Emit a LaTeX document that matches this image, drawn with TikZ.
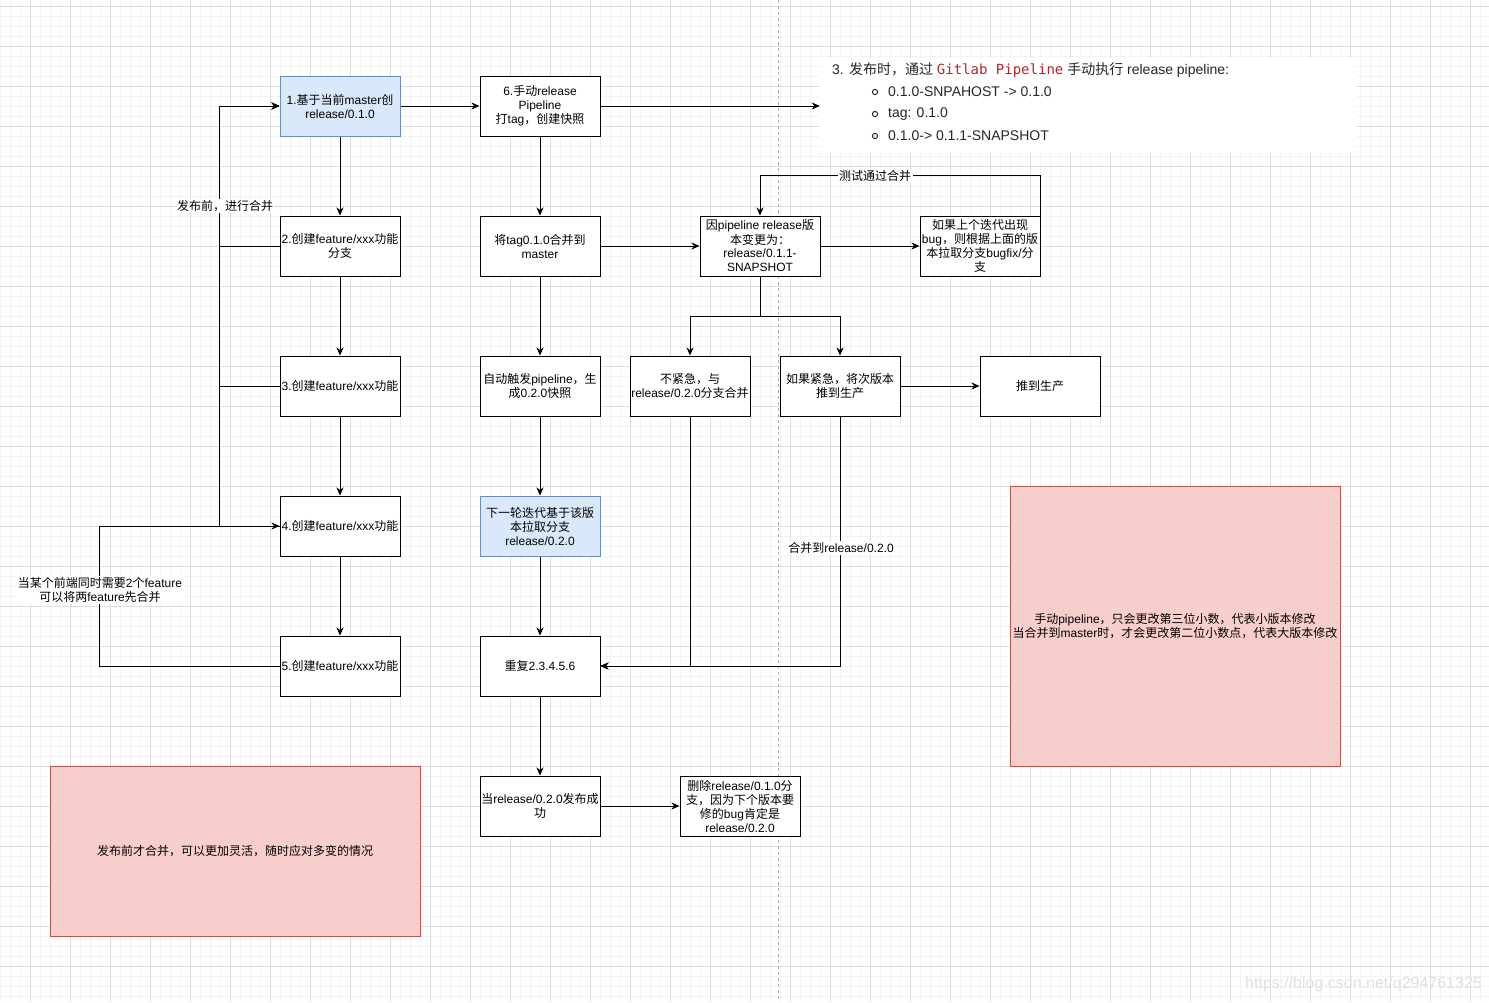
\documentclass[tikz,border=0pt]{standalone}
\usepackage{fontspec}
\setmainfont{Liberation Sans}
\newfontfamily\cjkfont{Noto Sans CJK SC}
\newfontfamily\latfont{Liberation Sans}
\newfontfamily\monofont{DejaVu Sans Mono}
\usetikzlibrary{arrows.meta}
\newcount\mycnt
\newXeTeXintercharclass\CJKcls
\def\setcjkrange#1#2{\mycnt=#1\relax\loop\XeTeXcharclass\mycnt=\CJKcls\relax\ifnum\mycnt<#2\relax\advance\mycnt by 1\relax\repeat}
\setcjkrange{"4E00}{"9FFF}
\setcjkrange{"3000}{"303F}
\setcjkrange{"FF00}{"FFEF}
\XeTeXinterchartokenstate=1
\XeTeXinterchartoks 0 \CJKcls = {\cjkfont}
\XeTeXinterchartoks 4095 \CJKcls = {\cjkfont}
\XeTeXinterchartoks \CJKcls 0 = {\latfont}
\XeTeXinterchartoks \CJKcls 4095 = {\latfont}
\newcommand\fs{\fontsize{12}{14}\selectfont}
\newcommand\fsbig{\fontsize{14}{17}\selectfont}
\definecolor{bluefill}{HTML}{DAE8FC}
\definecolor{bluestroke}{HTML}{6C8EBF}
\definecolor{redfill}{HTML}{F8CECC}
\definecolor{redstroke}{HTML}{B85450}
\definecolor{gitred}{HTML}{B8232F}
\definecolor{gridminor}{HTML}{F3F3F3}
\definecolor{gridmajor}{HTML}{DEDEDE}
\begin{document}
\begin{tikzpicture}[x=1pt,y=-1pt,
  box/.style={draw=black,line width=1pt,fill=white,minimum width=120pt,minimum height=60pt,inner sep=1pt,align=center,font=\fs},
  bluebox/.style={box,draw=bluestroke,fill=bluefill},
  note/.style={draw=redstroke,fill=redfill,line width=1pt,align=center,font=\fs,inner sep=0pt},
  conn/.style={line width=1pt,-{Stealth[length=8pt,width=7pt,inset=2.5pt]}},
  lbl/.style={fill=white,inner sep=1.5pt,align=center,font=\fs},
  shottext/.style={anchor=west,inner sep=0pt,font=\fsbig,text=black!85}]
\useasboundingbox (0,0) rectangle (1489,1002);
\fill[white] (0,0) rectangle (1489,1002);
% grid
\foreach \i in {0,10,...,1480} \draw[gridminor,line width=1pt] (\i,0) -- (\i,1002);
\foreach \j in {6,16,...,1000} \draw[gridminor,line width=1pt] (0,\j) -- (1489,\j);
\foreach \i in {30,70,...,1470} \draw[gridmajor,line width=1pt] (\i,0) -- (\i,1002);
\foreach \j in {6,46,...,1000} \draw[gridmajor,line width=1pt] (0,\j) -- (1489,\j);
% page break line
\draw[black!30,line width=0.8pt,dash pattern=on 3pt off 3pt] (778,0) -- (778,1002);

% screenshot
\node[fill=white,minimum width=536pt,minimum height=95pt,inner sep=0pt] (shot) at (1088,105.5) {};
\node[shottext] (st0) at (832,70) {3. 发布时，通过 {\monofont\color{gitred}Gitlab Pipeline} 手动执行 release pipeline:};
\node[shottext] (st1) at (888,92) {0.1.0-SNPAHOST -> 0.1.0};
\node[shottext] (st2) at (888,114) {tag: 0.1.0};
\node[shottext] (st3) at (888,136) {0.1.0-> 0.1.1-SNAPSHOT};
\foreach \y in {92,114,136} \draw[black!85,line width=1pt] (875,\y) circle (2.6pt);

% left column
\node[bluebox] (n1) at (340,106) {1.基于当前master创\\release/0.1.0};
\node[box] (n2) at (340,246) {2.创建feature/xxx功能\\分支};
\node[box] (n3) at (340,386) {3.创建feature/xxx功能};
\node[box] (n4) at (340,526) {4.创建feature/xxx功能};
\node[box] (n5) at (340,666) {5.创建feature/xxx功能};
% middle column
\node[box] (n6) at (540,106) {6.手动release\\Pipeline\\打tag，创建快照};
\node[box] (t1) at (540,246) {将tag0.1.0合并到\\master};
\node[box] (t2) at (540,386) {自动触发pipeline，生\\成0.2.0快照};
\node[bluebox] (t3) at (540,526) {下一轮迭代基于该版\\本拉取分支\\release/0.2.0};
\node[box] (t4) at (540,666) {重复2.3.4.5.6};
\node[box] (t5) at (540,806) {当release/0.2.0发布成\\功};
\node[box] (del) at (740,806) {删除release/0.1.0分\\支，因为下个版本要\\修的bug肯定是\\release/0.2.0};
% right part
\node[box] (snap) at (760,246) {因pipeline release版\\本变更为：\\release/0.1.1-\\SNAPSHOT};
\node[box] (bug) at (980,246) {如果上个迭代出现\\bug，则根据上面的版\\本拉取分支bugfix/分\\支};
\node[box] (nu) at (690,386) {不紧急，与\\release/0.2.0分支合并};
\node[box] (ur) at (840,386) {如果紧急，将次版本\\推到生产};
\node[box] (prod) at (1040,386) {推到生产};
% notes
\node[note,minimum width=370pt,minimum height=170pt] (red1) at (235,851) {发布前才合并，可以更加灵活，随时应对多变的情况};
\node[note,minimum width=330pt,minimum height=280pt] (red2) at (1175,626) {手动pipeline，只会更改第三位小数，代表小版本修改\\当合并到master时，才会更改第二位小数点，代表大版本修改};

% connectors
\draw[conn] (n1) -- (n2);
\draw[conn] (n2) -- (n3);
\draw[conn] (n3) -- (n4);
\draw[conn] (n4) -- (n5);
\draw[conn] (n2.west) -- ++(-60,0) |- (n1.west);
\draw[conn] (n3.west) -- ++(-60,0) |- (n1.west);
\draw[conn] (n4.west) -- ++(-60,0) |- (n1.west);
\draw[conn] (n5.west) -- ++(-180,0) |- (n4.west);

\draw[conn] (n1) -- (n6);
\draw[conn] (n6.east) -- (shot.west |- n6.east);
\draw[conn] (n6) -- (t1);
\draw[conn] (t1) -- (t2);
\draw[conn] (t2) -- (t3);
\draw[conn] (t3) -- (t4);
\draw[conn] (t4) -- (t5);
\draw[conn] (t5) -- (del);
\draw[conn] (t1) -- (snap);
\draw[conn] (snap) -- (bug);
\draw[conn] (bug.north east) -- ++(0,-40) -| (snap.north);
\draw[conn] (snap.south) -- ++(0,40) -| (nu.north);
\draw[conn] (snap.south) -- ++(0,40) -| (ur.north);
\draw[conn] (ur) -- (prod);
\draw[conn] (nu.south) |- (t4.east);
\draw[conn] (ur.south) |- (t4.east);

% connector labels (drawn last, white background)
\node[lbl] (l1) at (225,206) {发布前，进行合并};
\node[lbl] (l2) at (100,590) {当某个前端同时需要2个feature\\可以将两feature先合并};
\node[lbl] (l3) at (875,176) {测试通过合并};
\node[lbl] (l4) at (841,548) {合并到release/0.2.0};

% watermark
\node[anchor=west,inner sep=0pt,font=\fontsize{16}{18}\selectfont,text=black!12] (wm) at (1245,984) {https://blog.csdn.net/q294761325};
\end{tikzpicture}
\end{document}
